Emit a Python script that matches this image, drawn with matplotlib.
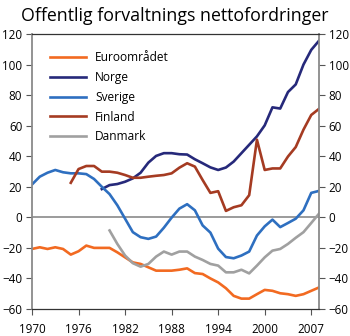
import matplotlib
matplotlib.use('Agg')
import matplotlib.pyplot as plt
import numpy as np

plt.rcParams['font.family'] = ['Open Sans', 'DejaVu Sans']

# ------------ data ------------ #
years = np.arange(1970, 2008)

euro = [-20.7, -19.6, -20.7, -19.6, -20.7, -24.4, -22.2, -18.5, -20.0, -20.0,
        -20.0, -22.9, -26.2, -29.5, -30.5, -32.7, -34.9, -34.9, -34.9, -34.3,
        -33.4, -36.5, -37.1, -40.0, -42.6, -46.4, -51.4, -53.2, -53.2, -50.3,
        -47.5, -48.1, -49.7, -50.3, -51.4, -50.3, -48.1, -45.9]

norge_years = np.arange(1979, 2008)
norge = [18.5, 21.1, 21.8, 23.3, 25.5, 29.2, 35.8, 40.2, 42.0, 42.0,
         41.3, 41.1, 38.0, 35.4, 32.7, 31.0, 32.6, 36.5, 42.0, 47.5,
         53.0, 60.2, 72.0, 71.2, 82.0, 87.0, 100.0, 109.6, 115.6]

sverige = [21.5, 26.6, 29.2, 31.0, 29.5, 28.8, 28.8, 28.3, 25.1, 20.0,
           15.2, 7.9, -0.9, -9.7, -13.0, -14.1, -12.6, -6.8, -0.2, 5.7,
           8.6, 4.6, -5.3, -10.0, -20.5, -26.0, -26.8, -25.0, -22.4, -11.9,
           -5.9, -1.5, -6.4, -3.7, -0.9, 4.6, 16.0, 17.3]

finland_years = np.arange(1975, 2008)
finland = [22.6, 31.6, 33.6, 33.6, 29.9, 29.9, 29.2, 27.7, 25.9, 25.9,
           26.6, 27.2, 27.7, 28.8, 32.5, 35.4, 33.2, 24.4, 16.0, 17.1,
           4.2, 6.6, 7.9, 14.5, 50.8, 31.0, 32.0, 32.0, 39.8, 46.0,
           57.4, 67.0, 71.0]

danmark_years = np.arange(1980, 2008)
danmark = [-8.6, -17.4, -25.0, -30.0, -32.3, -30.5, -25.7, -22.4, -24.4, -22.4,
           -22.4, -25.7, -27.9, -30.5, -31.6, -36.0, -36.0, -34.3, -36.7, -31.6,
           -26.2, -21.8, -20.7, -17.4, -13.4, -9.7, -3.7, 2.4]

xtick_pos = [1970, 1976, 1982, 1988, 1994, 2000, 2006]
xtick_labels = ['1970', '1976', '1982', '1988', '1994', '2000', '2007']
yticks = np.arange(-60, 121, 20)

# ------------ plot ------------ #
fig = plt.figure(figsize=(3.5, 3.36), dpi=100)
ax = fig.add_axes([32/350, 27/336, 287/350, 275/336])

lw = 1.9
ax.axhline(0, color='#8a8a8a', linewidth=1.2, zorder=1)
p1 = ax.plot(years, euro, color='#f26a21', linewidth=lw)
p2 = ax.plot(norge_years, norge, color='#26297a', linewidth=lw)
p3 = ax.plot(years, sverige, color='#2e6fc0', linewidth=lw)
p4 = ax.plot(finland_years, finland, color='#a53b22', linewidth=lw)
p5 = ax.plot(danmark_years, danmark, color='#a0a0a0', linewidth=lw)

ax.set_xlim(1970, 2007)
ax.set_ylim(-60, 120)
ax.set_xticks(xtick_pos)
ax.set_xticklabels(xtick_labels)
ax.set_yticks(yticks)
ax.tick_params(axis='both', labelsize=8.4, direction='out', length=4,
               width=0.8, color='#555555')
ax.tick_params(axis='x', pad=6)
ax.tick_params(axis='y', pad=3, right=True, labelright=True)

for side in ['left', 'right']:
    ax.spines[side].set_color('#8a8a8a')
    ax.spines[side].set_linewidth(1.3)
for side in ['top', 'bottom']:
    ax.spines[side].set_color('#333333')
    ax.spines[side].set_linewidth(0.9)

ax.legend((p1[0], p2[0], p3[0], p4[0], p5[0]),
          ('Euroområdet', 'Norge', 'Sverige', 'Finland', 'Danmark'),
          loc='upper left', bbox_to_anchor=(0.045, 0.955),
          frameon=False, fontsize=8.6, handlelength=3.0,
          handletextpad=0.8, labelspacing=0.57, borderaxespad=0)

fig.text(0.5, 0.953, 'Offentlig forvaltnings nettofordringer',
         ha='center', va='center', fontsize=12.8)

plt.savefig('out.png', dpi=100)
